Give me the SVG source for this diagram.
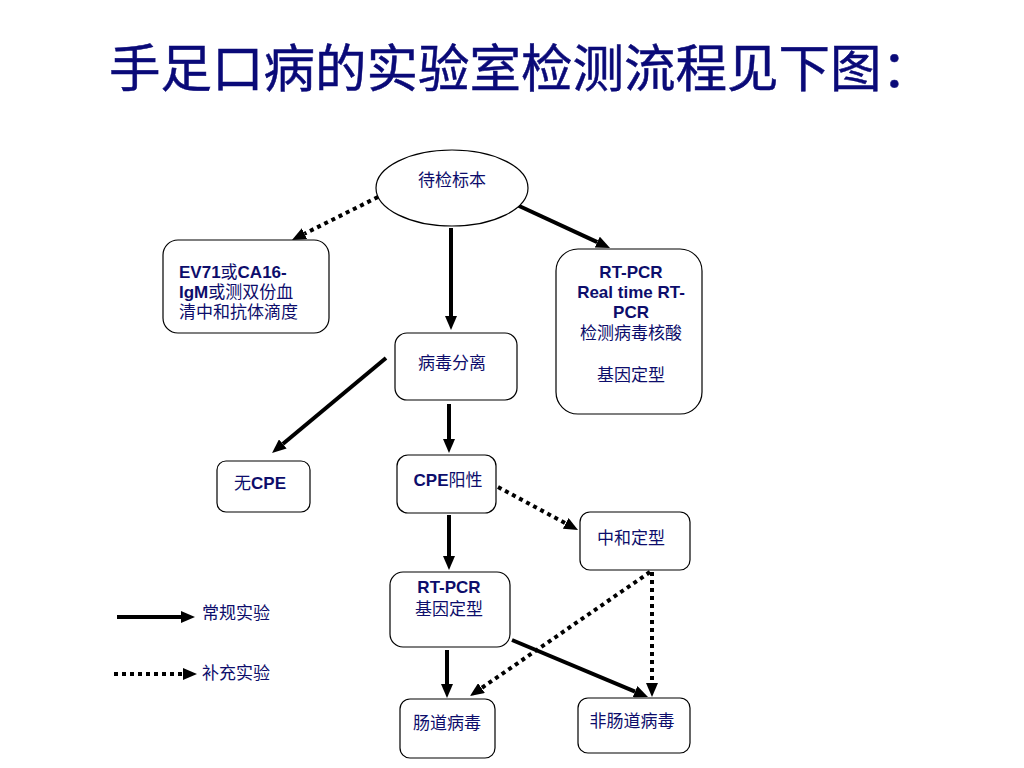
<svg xmlns="http://www.w3.org/2000/svg" width="1024" height="768" viewBox="0 0 1024 768">
<defs>
<style>
.box{fill:#fff;stroke:#000;stroke-width:1.2}
.t{font-family:"Liberation Sans","Noto Sans CJK SC",sans-serif;font-size:17px;fill:#0d0d6b}
.b{font-weight:bold}
.c{text-anchor:middle}
.s{fill:none;stroke:#000;stroke-width:4}
.d{fill:none;stroke:#000;stroke-width:4;stroke-dasharray:4 4}
.title{font-family:"Noto Sans CJK SC","Noto Sans CJK TC",sans-serif;font-size:51.5px;fill:#0a0a78;stroke:#0a0a78;stroke-width:0.5;text-anchor:middle}
</style>
<marker id="ah" viewBox="0 0 14 12" refX="0" refY="6" markerWidth="14" markerHeight="12" markerUnits="userSpaceOnUse" orient="auto">
<path d="M0,0 L14,6 L0,12 z" fill="#000"/>
</marker>
</defs>
<rect width="1024" height="768" fill="#fff"/>
<text class="title" x="521" y="87">手足口病的实验室检测流程见下图：</text>

<g id="connectors">
<line class="d" x1="378" y1="197" x2="304.5" y2="233.7" marker-end="url(#ah)"/>
<line class="s" x1="517" y1="205" x2="597.3" y2="242.1" marker-end="url(#ah)"/>
<line class="s" x1="451" y1="228" x2="451" y2="316" marker-end="url(#ah)"/>
<line class="s" x1="386" y1="358" x2="282.8" y2="444" marker-end="url(#ah)"/>
<line class="s" x1="449" y1="404" x2="449" y2="439" marker-end="url(#ah)"/>
<line class="d" x1="498" y1="487" x2="565.7" y2="523.4" marker-end="url(#ah)"/>
<line class="s" x1="449" y1="515" x2="449" y2="556" marker-end="url(#ah)"/>
<line class="d" x1="650" y1="572" x2="481.5" y2="688.1" marker-end="url(#ah)"/>
<line class="d" x1="652" y1="572" x2="652" y2="683" marker-end="url(#ah)"/>
<line class="s" x1="512" y1="640" x2="635.1" y2="691.6" marker-end="url(#ah)"/>
<line class="s" x1="447" y1="650" x2="447" y2="684" marker-end="url(#ah)"/>
</g>

<g id="legend">
<line class="s" x1="117" y1="617" x2="181" y2="617" marker-end="url(#ah)"/>
<text class="t" x="202" y="619">常规实验</text>
<line class="d" x1="114" y1="674" x2="183" y2="674" marker-end="url(#ah)"/>
<text class="t" x="202" y="679">补充实验</text>
</g>

<g id="n-sample">
<ellipse class="box" cx="452" cy="188" rx="76" ry="38"/>
<text class="t c" x="452" y="186">待检标本</text>
</g>

<g id="n-serology">
<rect class="box" x="163" y="240" width="166" height="93" rx="15"/>
<text class="t" x="179" y="278"><tspan class="b">EV71</tspan>或<tspan class="b">CA16-</tspan></text>
<text class="t" x="179" y="298"><tspan class="b">IgM</tspan>或测双份血</text>
<text class="t" x="179" y="318">清中和抗体滴度</text>
</g>

<g id="n-rtpcr1">
<rect class="box" x="556" y="249" width="146" height="165" rx="22"/>
<text class="t c b" x="631" y="278">RT-PCR</text>
<text class="t c b" x="631" y="298">Real time RT-</text>
<text class="t c b" x="631" y="318">PCR</text>
<text class="t c" x="631" y="339">检测病毒核酸</text>
<text class="t c" x="631" y="381">基因定型</text>
</g>

<g id="n-isolation">
<rect class="box" x="395" y="333" width="122" height="67" rx="12"/>
<text class="t c" x="452" y="369">病毒分离</text>
</g>

<g id="n-nocpe">
<rect class="box" x="217" y="461" width="93" height="51" rx="9"/>
<text class="t c" x="260" y="489">无<tspan class="b">CPE</tspan></text>
</g>

<g id="n-cpepos">
<rect class="box" x="397" y="455" width="99" height="58" rx="11"/>
<text class="t c" x="448" y="486"><tspan class="b">CPE</tspan>阳性</text>
</g>

<g id="n-neutral">
<rect class="box" x="580" y="512" width="110" height="58" rx="10"/>
<text class="t c" x="631" y="544">中和定型</text>
</g>

<g id="n-rtpcr2">
<rect class="box" x="390" y="572" width="120" height="75" rx="13"/>
<text class="t c b" x="449" y="593">RT-PCR</text>
<text class="t c" x="449" y="615">基因定型</text>
</g>

<g id="n-entero">
<rect class="box" x="400" y="699" width="95" height="59" rx="10"/>
<text class="t c" x="447" y="729">肠道病毒</text>
</g>

<g id="n-nonentero">
<rect class="box" x="578" y="698" width="112" height="55" rx="10"/>
<text class="t c" x="632" y="727">非肠道病毒</text>
</g>
</svg>
